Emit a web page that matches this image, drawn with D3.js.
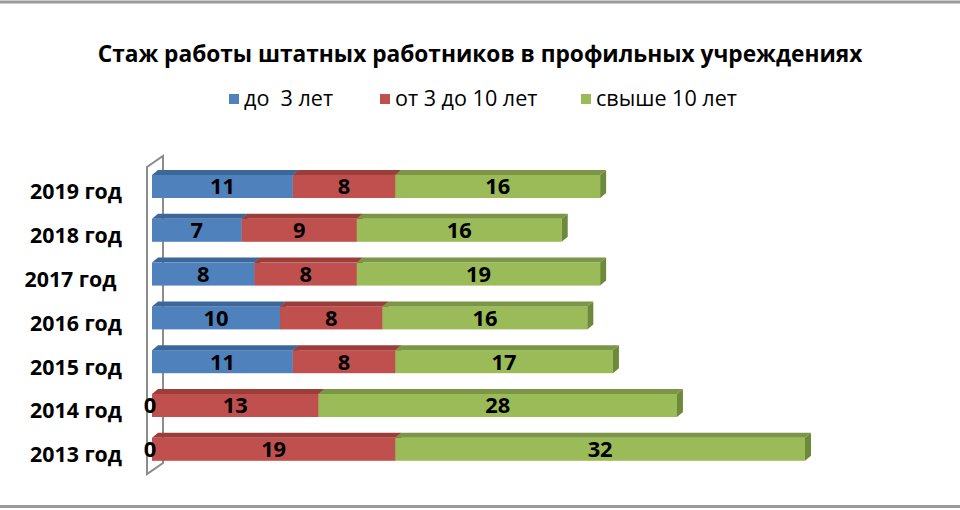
<!DOCTYPE html>
<html><head><meta charset="utf-8">
<script src="https://cdn.jsdelivr.net/npm/d3@7"></script>
<style>body{margin:0;background:#fff}svg{display:block}text{font-family:"Open Sans",sans-serif}</style>
</head><body>
<script>
const categories = ["2019 год","2018 год","2017 год ","2016 год","2015 год","2014 год","2013 год"];
const seriesNames = ["до  3 лет","от 3 до 10 лет","свыше 10 лет"];
const upTo3 = [11,7,8,10,11,0,0];
const from3to10 = [8,9,8,8,8,13,19];
const over10 = [16,16,19,16,17,28,32];
const colors = ["#4F81BD","#C0504D","#9BBB59"];
const topColors = ["#3C679A","#9C3D3A","#7A9646"];
const sideColors = ["#35608F","#8E3533","#6D8A3A"];
const title = "Стаж работы штатных работников в профильных учреждениях";

const W=960,H=510;
const svg=d3.select("body").append("svg").attr("width",W).attr("height",H);
svg.append("rect").attr("width",W).attr("height",H).attr("fill","#fff");

function fitSize(sample, weight, target){
  const t=svg.append("text").attr("font-size",100).attr("font-weight",weight)
    .attr("xml:space","preserve").style("white-space","pre").text(sample);
  const w=t.node().getComputedTextLength(); t.remove();
  return 100*target/w;
}
const titleSize=fitSize(title,"bold",765);
const legendSize=fitSize("свыше 10 лет","normal",141);
const catSize=fitSize("2019 год","bold",92);
const valSize=fitSize("16","bold",25);

svg.append("line").attr("x1",0).attr("x2",W).attr("y1",2).attr("y2",2).attr("stroke","#999").attr("stroke-width",3);
svg.append("line").attr("x1",0).attr("x2",W).attr("y1",506.5).attr("y2",506.5).attr("stroke","#999").attr("stroke-width",3);

svg.append("text").attr("x",480).attr("y",62).attr("text-anchor","middle")
  .attr("font-size",titleSize).attr("font-weight","bold").attr("fill","#000").text(title);

const legX=[229,380,581];
seriesNames.forEach((n,i)=>{
  svg.append("rect").attr("x",legX[i]).attr("y",94).attr("width",10).attr("height",10).attr("fill",colors[i]);
  svg.append("text").attr("x",legX[i]+15).attr("y",106).attr("font-size",legendSize).attr("fill","#000")
    .attr("xml:space","preserve").style("white-space","pre").text(n);
});

const x=d3.scaleLinear().domain([0,51]).range([152,805]);
const step=43.8, pi=0.475, po=0.2375;
const r0=175-po*step;
const y=d3.scaleBand().domain(categories).range([r0, r0+step*categories.length]).paddingInner(pi).paddingOuter(po);
const dx=6, dy=-5;

const wall=svg.append("g").attr("stroke","#8c8c8c").attr("stroke-width",2).attr("fill","none");
const wTop=167, wBot=474, wdx=16, wdy=-11;
wall.append("path").attr("d",`M147,${wBot} L147,${wTop} L${147+wdx},${wTop+wdy} L${147+wdx},${wBot+wdy} Z`);

categories.forEach(c=>{
  svg.append("text").attr("x",122).attr("y",y(c)+y.bandwidth()/2+13).attr("text-anchor","end")
    .attr("font-size",catSize).attr("font-weight","bold").attr("fill","#000")
    .attr("xml:space","preserve").style("white-space","pre").text(c);
});

const series=[upTo3,from3to10,over10];
const bars=svg.append("g");
categories.forEach((c,ci)=>{
  let acc=0;
  const y0=y(c), h=y.bandwidth();
  series.forEach((s,si)=>{
    const v=s[ci];
    const xa=x(acc), xb=x(acc+v);
    if(v>0){
      bars.append("rect").attr("x",xa).attr("y",y0).attr("width",xb-xa).attr("height",h).attr("fill",colors[si]);
      bars.append("path").attr("d",`M${xa},${y0} L${xb},${y0} L${xb+dx},${y0+dy} L${xa+dx},${y0+dy} Z`).attr("fill",topColors[si]);
      bars.append("path").attr("d",`M${xb},${y0} L${xb+dx},${y0+dy} L${xb+dx},${y0+h+dy} L${xb},${y0+h} Z`).attr("fill",sideColors[si]);
    }
    acc+=v;
  });
});
categories.forEach((c,ci)=>{
  let acc=0;
  const y0=y(c), h=y.bandwidth();
  series.forEach((s,si)=>{
    const v=s[ci];
    svg.append("text").attr("x",v>0?(x(acc)+x(acc+v))/2:x(acc)-2).attr("y",y0+h/2+8)
      .attr("text-anchor","middle").attr("font-size",valSize).attr("font-weight","bold").attr("fill","#000").text(v);
    acc+=v;
  });
});
</script>
</body></html>
